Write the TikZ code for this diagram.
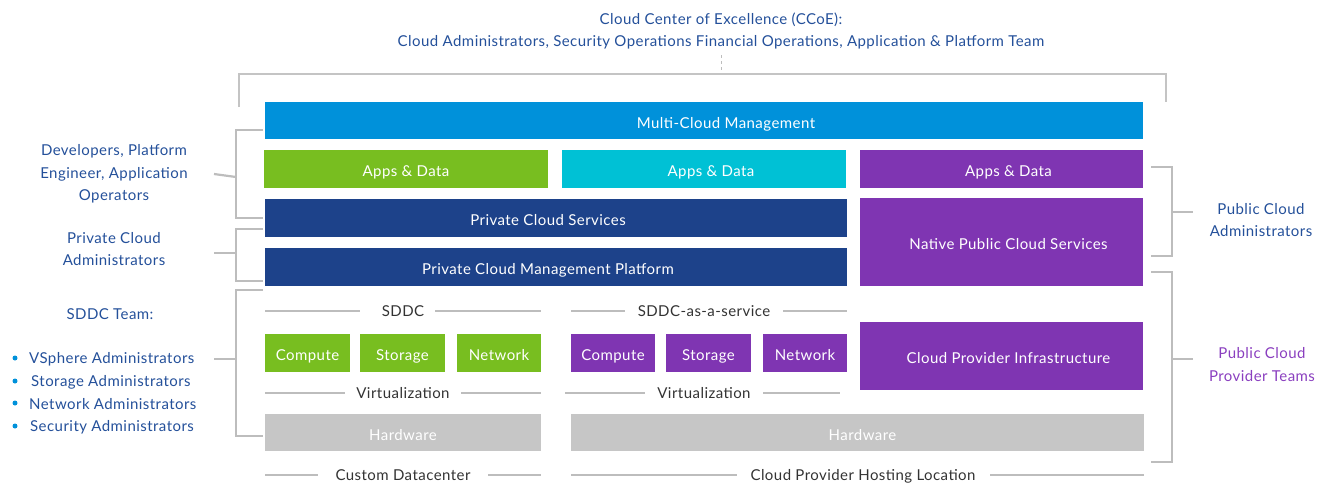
\documentclass[tikz,border=0pt]{standalone}
\usepackage{fontspec}
\setmainfont[LetterSpace=3]{Lato}
\definecolor{mcm}{HTML}{0091DA}
\definecolor{vgreen}{HTML}{78BE20}
\definecolor{vcyan}{HTML}{00C1D5}
\definecolor{vpurple}{HTML}{7F35B2}
\definecolor{vnavy}{HTML}{1D428A}
\definecolor{hw}{HTML}{C6C6C6}
\definecolor{linegray}{HTML}{BDBDBD}
\definecolor{labgray}{HTML}{333333}
\definecolor{teamblue}{HTML}{24509A}
\definecolor{teampurple}{HTML}{8A3FBF}
\newcommand\fs{\fontsize{15}{22.5}\selectfont}
\newcommand\bx[7]{\node[box, fill=#6, minimum width={(#4-#2)*1pt}, minimum height={(#5-#3)*1pt}] (#1) at ({(#2+#4)/2},{(#3+#5)/2}) {#7};}
\newcommand\sh[1]{\hspace*{#1}}
\tikzset{
 box/.style={inner sep=0pt, text=white, font=\fs, text height=15.8pt, text depth=0pt},
 lbl/.style={text=labgray, font=\fs, inner sep=1pt, text height=15.8pt, text depth=0pt},
 gline/.style={draw=linegray, line width=2pt},
 bracket/.style={draw=linegray, line width=2.2pt, line join=miter},
 team/.style={text=teamblue, align=center, font=\fs, inner sep=0pt},
 bul/.style={circle, fill=mcm, inner sep=0pt, minimum size=5pt},
}
\begin{document}
\begin{tikzpicture}[x=1pt,y=-1pt]
\useasboundingbox (0,0) rectangle (1335,483);
% top text
\node[team] (ccoe) at (721,31) {Cloud Center of Excellence (CCoE):\\Cloud Administrators, Security Operations Financial Operations, Application \& Platform Team};
\coordinate (topc) at (721,74);
\draw[linegray, dashed, line width=0.8pt] (ccoe.south |- 0,55) -- (topc);
\draw[bracket, draw=linegray!90] (239,107) |- (1166,74) -- (1166,102);
% main boxes
\bx{mcm}{265}{102}{1143}{139}{mcm}{\sh{44pt}Multi-Cloud Management}
\bx{ad1}{264}{150}{548}{188}{vgreen}{Apps \& Data}
\bx{ad2}{562}{150}{846}{188}{vcyan}{\sh{14pt}Apps \& Data}
\bx{ad3}{860}{150}{1143}{188}{vpurple}{\sh{14pt}Apps \& Data}
\bx{pcs}{265}{199}{847}{237}{vnavy}{\sh{-16pt}Private Cloud Services}
\bx{npcs}{860}{198}{1143}{286}{vpurple}{\sh{14pt}Native Public Cloud Services}
\bx{pcmp}{265}{248}{847}{286}{vnavy}{\sh{-16pt}Private Cloud Management Platform}
\bx{cpi}{860}{322}{1143}{390}{vpurple}{\sh{14pt}Cloud Provider Infrastructure}
\bx{c1}{265}{334}{350}{372}{vgreen}{Compute}
\bx{s1}{360}{334}{445}{372}{vgreen}{Storage}
\bx{n1}{457}{334}{541}{372}{vgreen}{Network}
\bx{c2}{571}{334}{655}{372}{vpurple}{Compute}
\bx{s2}{666}{334}{751}{372}{vpurple}{Storage}
\bx{n2}{763}{334}{847}{372}{vpurple}{Network}
\bx{hw1}{265}{414}{541}{451}{hw}{Hardware}
\bx{hw2}{571}{414}{1144}{451}{hw}{\sh{10pt}Hardware}
% line labels
\node[lbl] (sddc) at (403,309) {SDDC};
\draw[gline] (265,311) -- (360,311); \draw[gline] (435,311) -- (541,311);
\node[lbl] (sddcs) at (704,309) {SDDC-as-a-service};
\draw[gline] (571,311) -- (625,311); \draw[gline] (783,311) -- (847,311);
\node[lbl] (virt1) at (403,391) {Virtualization};
\draw[gline] (265,393) -- (345,393); \draw[gline] (461,393) -- (541,393);
\node[lbl] (virt2) at (704,391) {Virtualization};
\draw[gline] (565,393) -- (645,393); \draw[gline] (763,393) -- (840,393);
\node[lbl] (cdc) at (403,473) {Custom Datacenter};
\draw[gline] (265,475) -- (318,475); \draw[gline] (488,475) -- (541,475);
\node[lbl] (cphl) at (863,473) {Cloud Provider Hosting Location};
\draw[gline] (571,475) -- (737,475); \draw[gline] (990,475) -- (1144,475);
% left brackets and teams
\node[team] (dev) at (114,174) {Developers, Platform\\Engineer, Application\\Operators};
\draw[bracket] (263,130) -| (236,218) -- (263,218);
\draw[bracket] (dev.east -| 214,177) -- (236,177);
\node[team] (pca) at (114,249) {Private Cloud\\Administrators};
\draw[bracket] (263,229) -| (236,281) -- (263,281);
\draw[bracket] (214,253) -- (236,253);
\node[team] (sddct) at (110,314) {SDDC Team:};
\node[team, anchor=west] (b1) at (29,359) {VSphere Administrators};
\node[team, anchor=west] (b2) at (31,382) {Storage Administrators};
\node[team, anchor=west] (b3) at (29,404) {Network Administrators};
\node[team, anchor=west] (b4) at (30,427) {Security Administrators};
\node[bul] at (15,358) {}; \node[bul] at (15,381) {}; \node[bul] at (15,403) {}; \node[bul] at (15,426) {};
\draw[bracket] (263,290) -| (236,436) -- (263,436);
\draw[bracket] (214,359) -- (236,359);
% right brackets and teams
\node[team] (puba) at (1261,220) {Public Cloud\\Administrators};
\draw[bracket] (1151,167) -| (1172,256) -- (1151,256);
\draw[bracket] (1172,212) -- (1193,212);
\node[team, text=teampurple] (pubp) at (1262,364.5) {Public Cloud\\Provider Teams};
\draw[bracket] (1151,272) -| (1172,462) -- (1151,462);
\draw[bracket] (1172,359) -- (1193,359);
\end{tikzpicture}
\end{document}
